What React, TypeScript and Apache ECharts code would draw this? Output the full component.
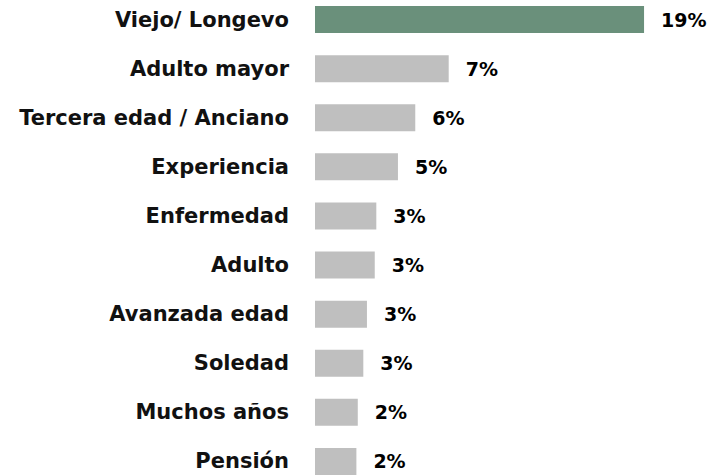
import React, { useEffect, useRef } from "react";
import * as echarts from "echarts";

const categories = [
  "Viejo/ Longevo",
  "Adulto mayor",
  "Tercera edad / Anciano",
  "Experiencia",
  "Enfermedad",
  "Adulto",
  "Avanzada edad",
  "Soledad",
  "Muchos años",
  "Pensión",
];
const values = [19, 7.72, 5.79, 4.79, 3.54, 3.45, 3.0, 2.79, 2.47, 2.39];
const valueLabels = ["19%", "7%", "6%", "5%", "3%", "3%", "3%", "3%", "2%", "2%"];

export default function App() {
  const ref = useRef<HTMLDivElement>(null);
  useEffect(() => {
    if (!ref.current) return;
    const chart = echarts.init(ref.current, null, { renderer: "svg" });
    const font = "DejaVu Sans";
    chart.setOption({
      animation: false,
      grid: { left: 315, top: 0, width: 381, bottom: 0, containLabel: false },
      xAxis: {
        type: "value",
        min: 0,
        max: 22,
        show: false,
      },
      yAxis: {
        type: "category",
        data: categories,
        inverse: true,
        axisLine: { show: false },
        axisTick: { show: false },
        axisLabel: {
          margin: 26,
          color: "#111",
          fontFamily: font,
          fontWeight: "bold",
          fontSize: 21,
        },
      },
      series: [
        {
          type: "bar",
          data: values.map((v, i) => ({
            value: v,
            itemStyle: { color: i === 0 ? "#6A907B" : "#BFBFBF" },
          })),
          barWidth: 27,
          label: {
            show: true,
            position: "right",
            distance: 17,
            color: "#000",
            fontFamily: font,
            fontWeight: "bold",
            fontSize: 19,
            formatter: (p: any) => valueLabels[p.dataIndex],
          },
        },
      ],
    });
    return () => chart.dispose();
  }, []);
  return (
    <div
      ref={ref}
      style={{ position: "fixed", left: 0, top: -5, width: 709, height: 491, background: "#fff" }}
    />
  );
}
